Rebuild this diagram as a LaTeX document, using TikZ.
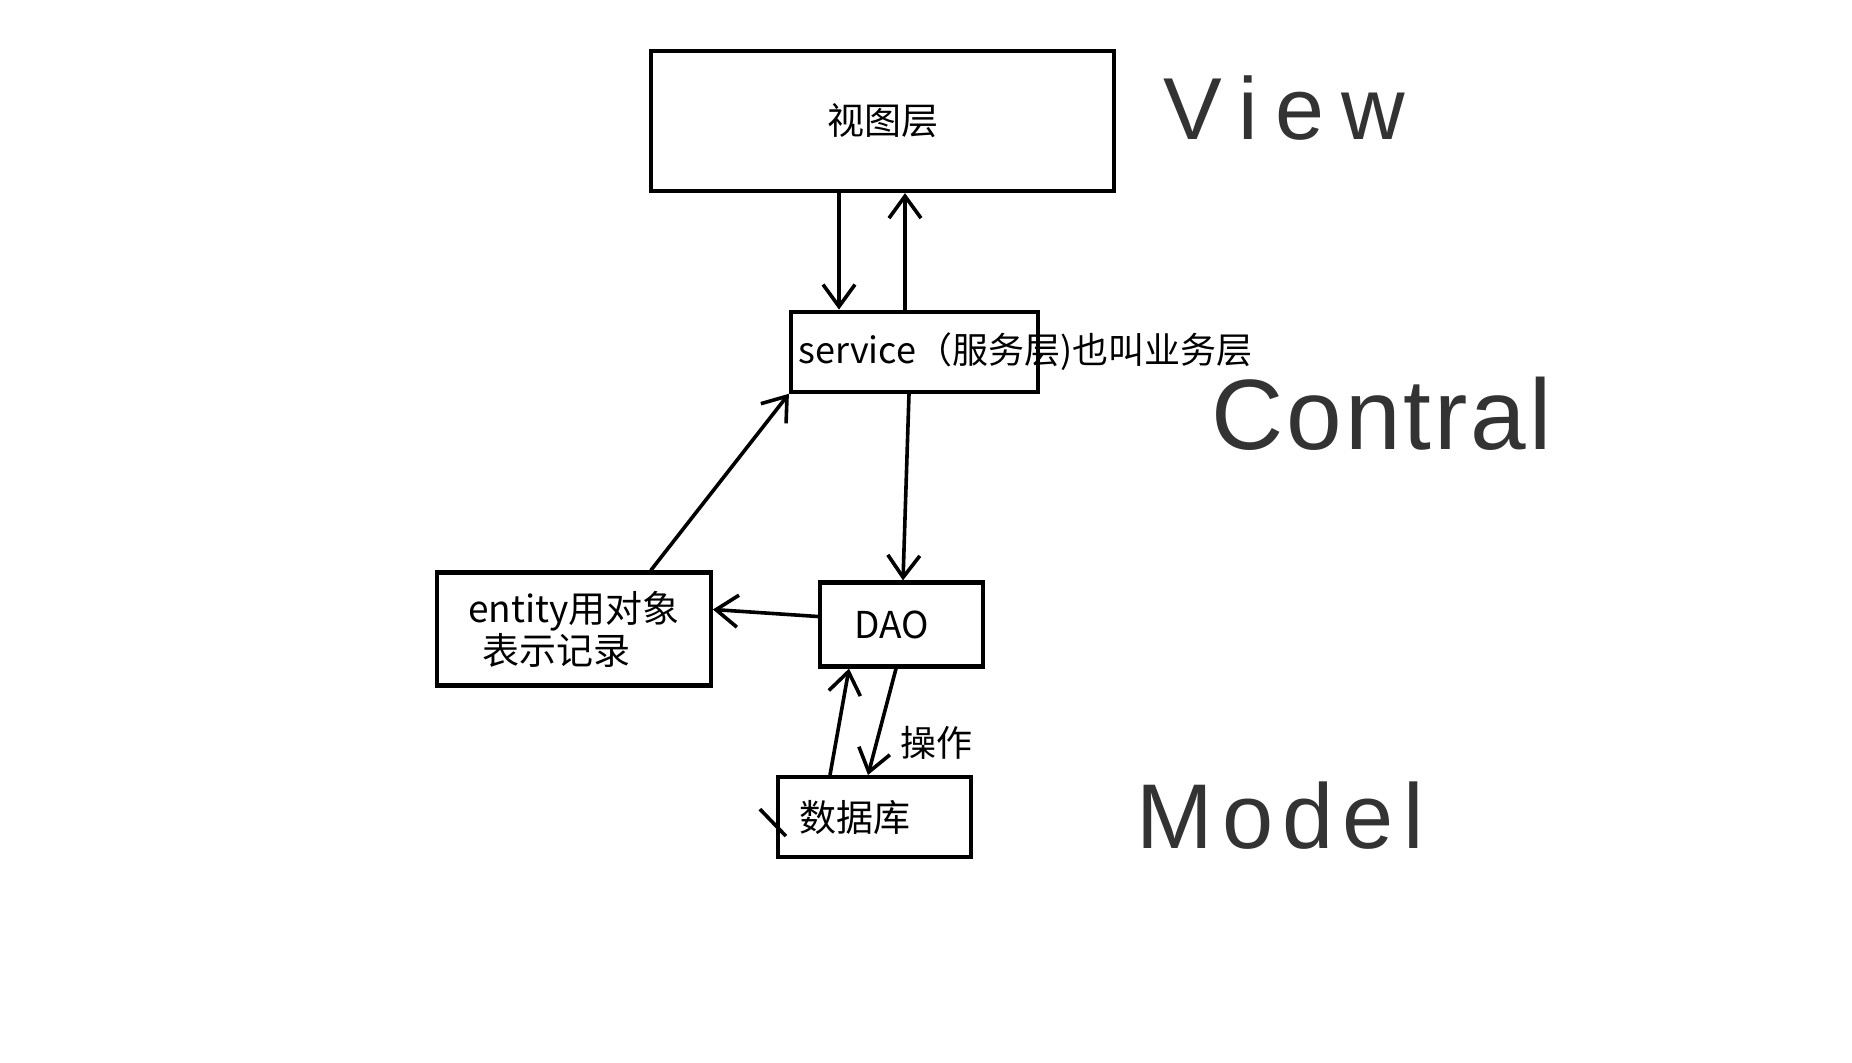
\documentclass[tikz,border=0pt]{standalone}
\usepackage{fontspec}
\newfontfamily\cjk{Noto Sans CJK SC}
\newfontfamily\handfont{Liberation Sans}
\usetikzlibrary{arrows.meta,positioning}

\begin{document}
\begin{tikzpicture}[
  x=0.5pt, y=-0.5pt,
  box/.style={draw, line width=2.1pt, inner sep=0pt, font=\cjk\fontsize{18.5}{21}\selectfont},
  arr/.style={-{Straight Barb[length=11pt,width=16pt]}, line width=1.8pt},
  lbl/.style={font=\cjk\fontsize{18}{21}\selectfont, inner sep=0pt},
  hand/.style={text=black!80, inner sep=0pt, anchor=base west}
]
  \useasboundingbox (0,0) rectangle (1852,1063);

  % layers, top to bottom
  \node[box, minimum width=231.5pt, minimum height=70pt] (view) at (882.5,121) {视图层};
  \node[box, minimum width=123.5pt, minimum height=40pt, below=58.25pt of view, xshift=16pt] (service) {};
  \node[lbl, anchor=west, xshift=4.5pt] (servicetxt) at (service.west) {service（服务层)也叫业务层};
  \node[box, minimum width=81.5pt, minimum height=42pt, below=93.3pt of service, xshift=-6.5pt] (dao) {DAO\hspace*{10pt}};
  \node[box, minimum width=137pt, minimum height=56.5pt, align=left, left=52.5pt of dao, yshift=-2.25pt] (entity) {entity用对象\\\hspace*{7pt}表示记录};
  \node[box, minimum width=96.5pt, minimum height=40pt, below=53.2pt of dao, xshift=-13.5pt] (db) {数据库\hspace*{20pt}};

  % view <-> service
  \coordinate (vdown) at ([xshift=-21.75pt]view.south);
  \coordinate (vup) at ([xshift=11.25pt]view.south);
  \draw[arr] (vdown) -- (vdown |- service.north);
  \draw[arr] (vup |- service.north) -- (vup);

  % service, entity, DAO
  \draw[arr] ([xshift=38.5pt]entity.north) -- (service.south west);
  \draw[arr] ([xshift=-2.75pt]service.south) -- ([xshift=0.75pt]dao.north);
  \draw[arr] ([yshift=4pt]dao.west) -- ([yshift=9.75pt]entity.east);

  % DAO <-> database
  \draw[arr] ([xshift=-22.25pt]db.north) -- ([xshift=-26.25pt]dao.south);
  \draw[arr] ([xshift=-2.75pt]dao.south) -- node[lbl, pos=0.7, anchor=west, xshift=11pt] (oplbl) {操作} ([xshift=-3.25pt]db.north);
  \draw[line width=1.8pt] ([xshift=-8pt,yshift=4pt]db.west) -- ([xshift=5pt,yshift=-9.5pt]db.west);

  % handwritten layer names
  \node[hand, font=\handfont\addfontfeature{LetterSpace=20}\fontsize{44}{44}\selectfont] (viewlbl) at (1163,140) {View};
  \node[hand, font=\handfont\addfontfeature{LetterSpace=3}\fontsize{50}{50}\selectfont] (ctrllbl) at (1211,450) {Contral};
  \node[hand, font=\handfont\addfontfeature{LetterSpace=10}\fontsize{46}{46}\selectfont] (modellbl) at (1136,848) {Model};
\end{tikzpicture}
\end{document}
